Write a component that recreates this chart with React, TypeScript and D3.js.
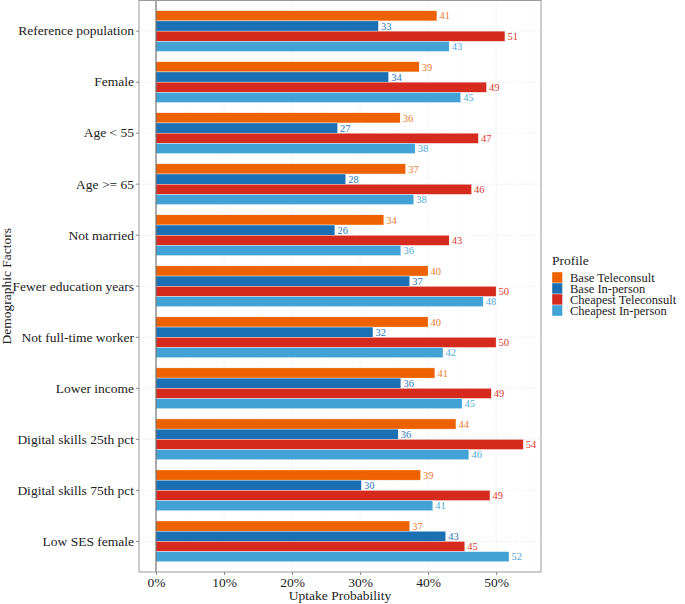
import React, { useEffect, useRef } from 'react';
import * as d3 from 'd3';

// categories, top to bottom
const categories = [
  "Reference population",
  "Female",
  "Age < 55",
  "Age >= 65",
  "Not married",
  "Fewer education years",
  "Not full-time worker",
  "Lower income",
  "Digital skills 25th pct",
  "Digital skills 75th pct",
  "Low SES female",
];

const profiles = ["Base Teleconsult", "Base In-person", "Cheapest Teleconsult", "Cheapest In-person"];
const profileColors = ["#EE6100", "#1A70B3", "#D62A1E", "#43A2D5"];
const labelColors = ["#F07A30", "#2A78BA", "#DD3A2C", "#52AADA"];

// uptake probabilities
const baseTele = [0.413, 0.387, 0.359, 0.367, 0.335, 0.400, 0.400, 0.410, 0.441, 0.389, 0.373];
const baseInPerson = [0.327, 0.342, 0.267, 0.279, 0.263, 0.373, 0.319, 0.360, 0.356, 0.302, 0.426];
const cheapTele = [0.513, 0.486, 0.474, 0.464, 0.431, 0.500, 0.500, 0.493, 0.540, 0.491, 0.454];
const cheapInPerson = [0.431, 0.448, 0.381, 0.379, 0.360, 0.481, 0.422, 0.450, 0.460, 0.407, 0.519];

const xTicks = [0, 0.1, 0.2, 0.3, 0.4, 0.5];
const xMinorTicks = [0.05, 0.15, 0.25, 0.35, 0.45, 0.55];

const FONT = "'Liberation Serif', 'Times New Roman', serif";

const App = () => {
  const svgRef = useRef<SVGSVGElement>(null);

  useEffect(() => {
    const svg = d3.select(svgRef.current);
    svg.selectAll("*").remove();

    const width = 685;
    const height = 604;
    const panel = { left: 139, right: 541, top: 0.5, bottom: 572 };

    const seriesValues = [baseTele, baseInPerson, cheapTele, cheapInPerson];
    const rows = categories.flatMap((c, i) =>
      profiles.map((p, j) => ({ cat: c, profile: p, idx: j, value: seriesValues[j][i] }))
    );

    const x = d3.scaleLinear().domain([-0.025, 0.566]).range([panel.left, panel.right]);
    const y = d3.scaleBand().domain(categories).range([panel.top, panel.bottom])
      .paddingInner(0.2).paddingOuter(0.2);
    const yInner = d3.scaleBand().domain(profiles).range([0, y.bandwidth()]);

    const g = svg.append("g");

    // grid
    g.selectAll(".minor").data(xMinorTicks).enter().append("line")
      .attr("x1", d => x(d)).attr("x2", d => x(d))
      .attr("y1", panel.top).attr("y2", panel.bottom)
      .attr("stroke", "#ececec").attr("stroke-width", 0.6).attr("stroke-dasharray", "1,2");
    g.selectAll(".major").data(xTicks).enter().append("line")
      .attr("x1", d => x(d)).attr("x2", d => x(d))
      .attr("y1", panel.top).attr("y2", panel.bottom)
      .attr("stroke", "#d6d6d6").attr("stroke-width", 0.7).attr("stroke-dasharray", "1,2");
    g.selectAll(".hgrid").data(categories).enter().append("line")
      .attr("x1", panel.left).attr("x2", panel.right)
      .attr("y1", d => y(d)! + y.bandwidth() / 2).attr("y2", d => y(d)! + y.bandwidth() / 2)
      .attr("stroke", "#d6d6d6").attr("stroke-width", 0.7).attr("stroke-dasharray", "1,2");

    // bars
    g.selectAll(".bar").data(rows).enter().append("rect")
      .attr("x", x(0))
      .attr("y", d => y(d.cat)! + yInner(d.profile)!)
      .attr("width", d => x(d.value) - x(0))
      .attr("height", yInner.bandwidth())
      .attr("fill", d => profileColors[d.idx])
      .attr("stroke", "white").attr("stroke-width", 0.4);

    // value labels with white boxes
    const labels = g.selectAll(".lab").data(rows).enter().append("g")
      .attr("transform", d => `translate(${x(d.value)},${y(d.cat)! + yInner(d.profile)! + yInner.bandwidth() / 2})`);
    labels.append("rect")
      .attr("x", 0.5).attr("y", -yInner.bandwidth() / 2 + 0.5)
      .attr("width", 15).attr("height", yInner.bandwidth() - 1)
      .attr("fill", "white");
    labels.append("text")
      .attr("x", 2.5).attr("dy", "0.35em")
      .attr("fill", d => labelColors[d.idx])
      .style("font-family", FONT).style("font-size", "10.5px")
      .text(d => Math.round(d.value * 100));

    // zero line
    g.append("line")
      .attr("x1", x(0)).attr("x2", x(0))
      .attr("y1", panel.top).attr("y2", panel.bottom)
      .attr("stroke", "#5a5a5a").attr("stroke-width", 1);

    // panel border
    g.append("rect")
      .attr("x", panel.left).attr("y", panel.top)
      .attr("width", panel.right - panel.left).attr("height", panel.bottom - panel.top)
      .attr("fill", "none").attr("stroke", "#9a9a9a").attr("stroke-width", 1);

    // x axis
    const xAxis = g.append("g")
      .attr("transform", `translate(0,${panel.bottom})`)
      .call(d3.axisBottom(x).tickValues(xTicks).tickFormat(d => `${Math.round(+d * 100)}%`).tickSize(3).tickPadding(2));
    xAxis.select(".domain").remove();
    xAxis.selectAll("line").attr("stroke", "#8a8a8a");
    xAxis.selectAll("text").attr("fill", "#222").style("font-family", FONT).style("font-size", "13.5px");

    // y axis
    const yAxis = g.append("g")
      .attr("transform", `translate(${panel.left},0)`)
      .call(d3.axisLeft(y).tickSize(3).tickPadding(2));
    yAxis.select(".domain").remove();
    yAxis.selectAll("line").attr("stroke", "#8a8a8a");
    yAxis.selectAll("text").attr("fill", "#222").style("font-family", FONT).style("font-size", "13.5px");

    // axis titles
    svg.append("text")
      .attr("x", (panel.left + panel.right) / 2).attr("y", 600)
      .attr("text-anchor", "middle").attr("fill", "#222")
      .style("font-family", FONT).style("font-size", "13.5px")
      .text("Uptake Probability");
    svg.append("text")
      .attr("transform", `translate(11,${(panel.top + panel.bottom) / 2}) rotate(-90)`)
      .attr("text-anchor", "middle").attr("fill", "#222")
      .style("font-family", FONT).style("font-size", "13.5px")
      .text("Demographic Factors");

    // legend
    const legend = svg.append("g").attr("transform", "translate(552,260)");
    legend.append("text")
      .attr("x", 0).attr("y", 0).attr("dy", "0.35em").attr("fill", "#222")
      .style("font-family", FONT).style("font-size", "13.5px")
      .text("Profile");
    const items = legend.selectAll(".item").data(profiles).enter().append("g")
      .attr("transform", (d, i) => `translate(0,${12 + i * 11})`);
    items.append("rect")
      .attr("width", 10.5).attr("height", 11)
      .attr("fill", (d, i) => profileColors[i])
      .attr("stroke", "white").attr("stroke-width", 0.4);
    items.append("text")
      .attr("x", 18).attr("y", 5.5).attr("dy", "0.35em").attr("fill", "#222")
      .style("font-family", FONT).style("font-size", "12.5px")
      .text(d => d);

    svg.attr("width", width).attr("height", height);
  }, []);

  return (
    <svg ref={svgRef} width={685} height={604}
      style={{ position: 'absolute', left: 0, top: 0, background: 'white' }}></svg>
  );
};

export default App;
